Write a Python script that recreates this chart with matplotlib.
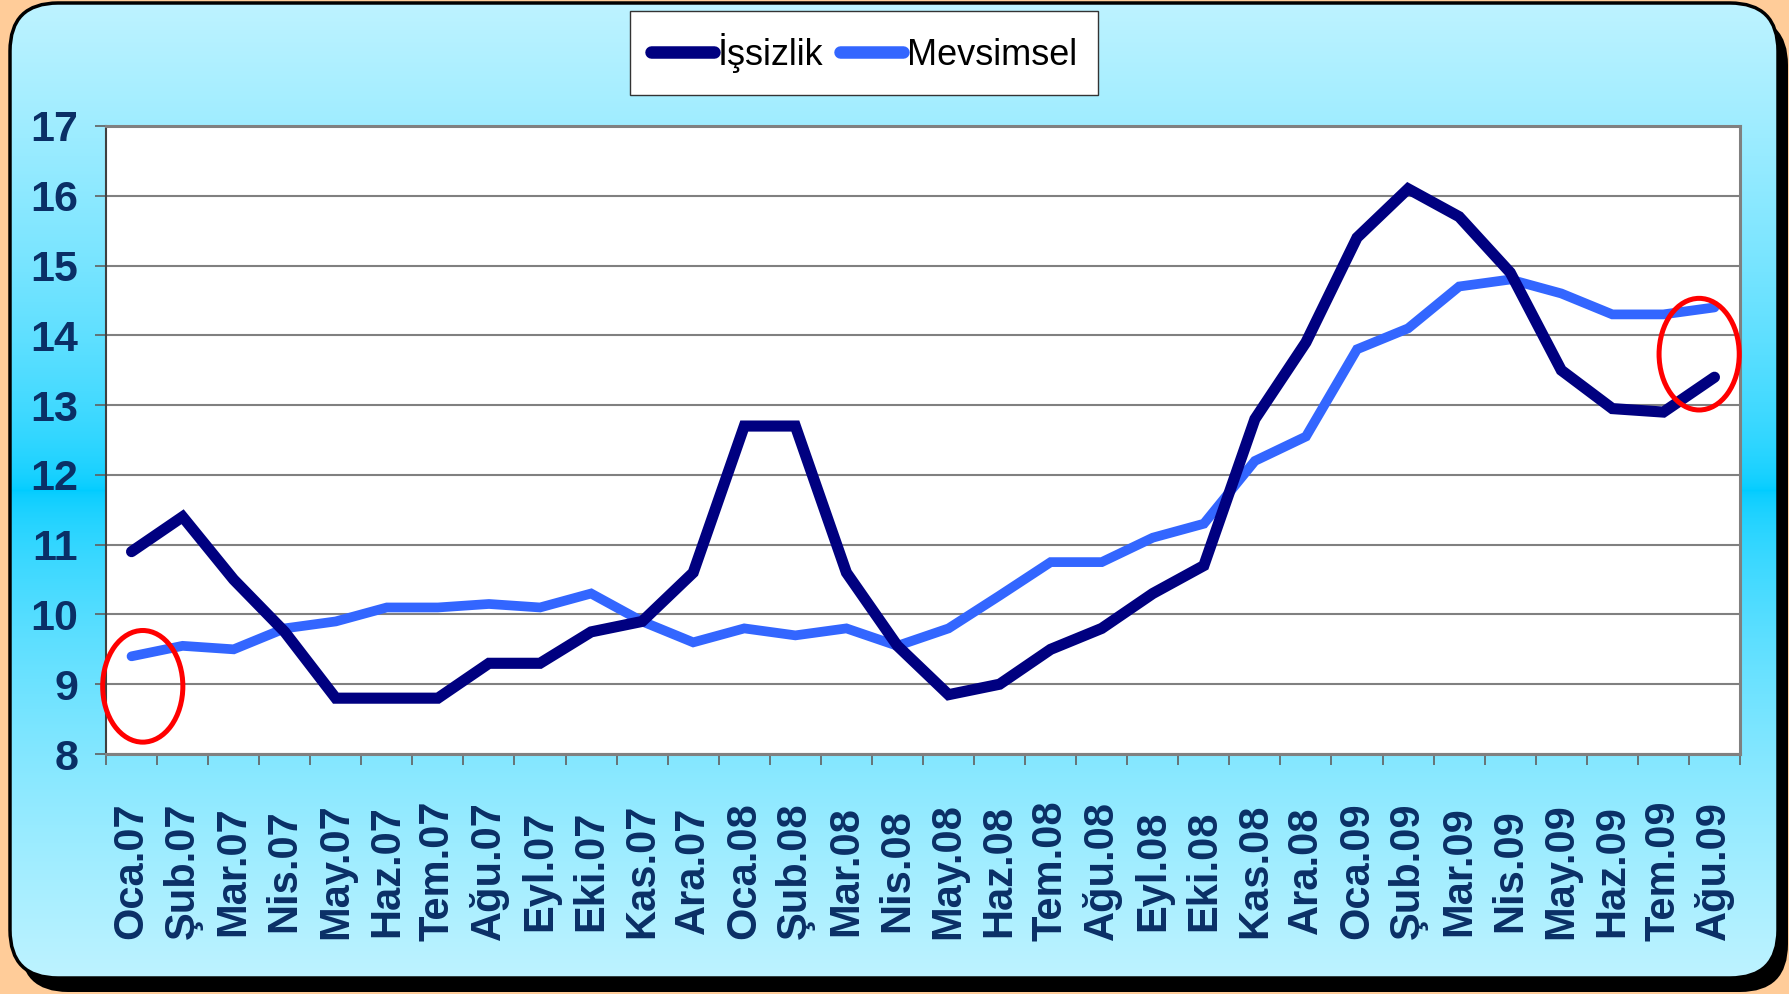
import numpy as np
import matplotlib
matplotlib.use("Agg")
import matplotlib.pyplot as plt
from matplotlib.patches import FancyBboxPatch, Ellipse, Rectangle
from matplotlib import font_manager

months = ["Oca.07", "Şub.07", "Mar.07", "Nis.07", "May.07", "Haz.07", "Tem.07", "Ağu.07",
          "Eyl.07", "Eki.07", "Kas.07", "Ara.07", "Oca.08", "Şub.08", "Mar.08", "Nis.08",
          "May.08", "Haz.08", "Tem.08", "Ağu.08", "Eyl.08", "Eki.08", "Kas.08", "Ara.08",
          "Oca.09", "Şub.09", "Mar.09", "Nis.09", "May.09", "Haz.09", "Tem.09", "Ağu.09"]

issizlik = [10.9, 11.4, 10.5, 9.75, 8.8, 8.8, 8.8, 9.3, 9.3, 9.75, 9.9, 10.6,
            12.7, 12.7, 10.6, 9.55, 8.85, 9.0, 9.5, 9.8, 10.3, 10.7, 12.8, 13.9,
            15.4, 16.1, 15.7, 14.9, 13.5, 12.95, 12.9, 13.4]

mevsimsel = [9.4, 9.55, 9.5, 9.8, 9.9, 10.1, 10.1, 10.15, 10.1, 10.3, 9.9, 9.6,
             9.8, 9.7, 9.8, 9.55, 9.8, 10.27, 10.75, 10.75, 11.1, 11.3, 12.2, 12.55,
             13.8, 14.1, 14.7, 14.8, 14.6, 14.3, 14.3, 14.4]

y_ticks = [8, 9, 10, 11, 12, 13, 14, 15, 16, 17]

# red circles drawn around the first and last months (center x, center y)
circles = [(0.22, 8.97), (30.7, 13.73)]

available = {f.name for f in font_manager.fontManager.ttflist}
narrow = "Liberation Sans Narrow" if "Liberation Sans Narrow" in available else "Liberation Sans"
fam = [narrow, "DejaVu Sans"]

W, H = 1790, 994
fig = plt.figure(figsize=(W / 100, H / 100), dpi=100)

# background: peach page, black shadow, cyan gradient panel
bg = fig.add_axes([0, 0, 1, 1])
bg.set_xlim(0, W)
bg.set_ylim(H, 0)
bg.axis("off")
bg.add_patch(Rectangle((0, 0), W, H, facecolor="#FFCC99", edgecolor="none"))
bg.add_patch(FancyBboxPatch((20, 17), 1768, 975, boxstyle="round,pad=0,rounding_size=48",
                            facecolor="black", edgecolor="none"))
panel = FancyBboxPatch((10, 3), 1768, 975, boxstyle="round,pad=0,rounding_size=48",
                       facecolor="none", edgecolor="black", linewidth=2.5, zorder=3)
bg.add_patch(panel)
rows = np.arange(H)
t = np.clip(np.abs(rows - 490) / 490.0, 0, 1) ** 0.6
light = np.array([190, 243, 255]) / 255.0
cyan = np.array([0, 204, 255]) / 255.0
grad = cyan[None, :] + (light - cyan)[None, :] * t[:, None]
img = bg.imshow(grad[:, None, :], extent=(0, W, H, 0), aspect="auto", zorder=2)
img.set_clip_path(panel)

ax = fig.add_axes([106 / W, 1 - 754 / H, (1740 - 106) / W, (754 - 126) / H])
ax.set_zorder(2)
ax.set_facecolor("white")

x = np.arange(len(months))
ax.plot(x, issizlik, color="#000080", lw=8, solid_capstyle="round",
        solid_joinstyle="miter", label="İşsizlik", zorder=4)
ax.plot(x, mevsimsel, color="#3366FF", lw=7, solid_capstyle="round",
        solid_joinstyle="miter", label="Mevsimsel", zorder=3)

for cx, cy in circles:
    ax.add_patch(Ellipse((cx, cy), 1.57, 1.6, fill=False, edgecolor="#FF0000",
                         lw=3.6, clip_on=False, zorder=5))

ax.set_xlim(-0.5, len(months) - 0.5)
ax.set_ylim(8, 17)
ax.set_yticks(y_ticks)
ax.yaxis.grid(True, color="#808080", lw=1.5)
ax.set_axisbelow(True)

ax.set_xticks(np.arange(-0.5, len(months), 1.0))
ax.set_xticklabels([])
ax.set_xticks(x, minor=True)
ax.set_xticklabels(months, minor=True, rotation=90, fontsize=30, fontweight="bold",
                   color="#0a2f66", family=fam, va="center")
ax.tick_params(axis="x", which="major", length=8, width=1.2, color="#606060", direction="out")
ax.tick_params(axis="x", which="minor", length=0, pad=84)
ax.tick_params(axis="y", length=8, width=1.2, color="#606060", direction="out", pad=12)
for lab in ax.get_yticklabels():
    lab.set_fontsize(31)
    lab.set_fontweight("bold")
    lab.set_color("#0a2f66")
    lab.set_family(fam)

for side, col, lw in [("top", "#808080", 2.2), ("right", "#808080", 2.2),
                      ("bottom", "#808080", 2.2), ("left", "#404040", 1.5)]:
    ax.spines[side].set_color(col)
    ax.spines[side].set_linewidth(lw)

leg = fig.legend(loc="center", bbox_to_anchor=(864 / W, 1 - 53 / H), ncol=2,
                 prop={"family": fam, "size": 26}, frameon=True, fancybox=False,
                 edgecolor="#333333", facecolor="white", framealpha=1,
                 handlelength=1.75, handletextpad=0.1, columnspacing=0.45,
                 borderpad=0.6)
leg.get_frame().set_linewidth(1.0)
for h in leg.get_lines():
    h.set_linewidth(9)

fig.savefig("out.png", dpi=100)
